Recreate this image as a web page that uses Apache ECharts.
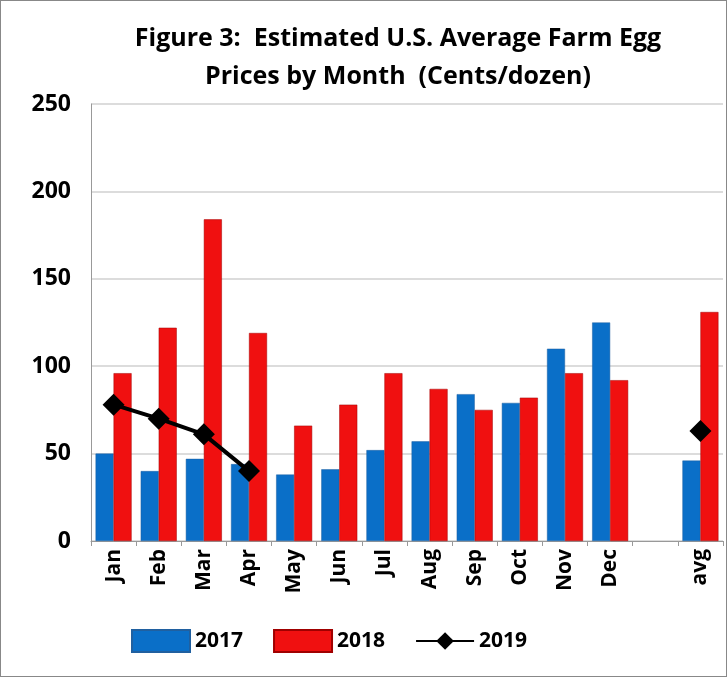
<!DOCTYPE html>
<html>
<head>
<meta charset="utf-8">
<script src="https://cdn.jsdelivr.net/npm/echarts@6/dist/echarts.min.js"></script>
<style>
html, body { margin: 0; padding: 0; background: #fff; }
#chart { width: 725px; height: 675px; border: 1px solid #888; }
</style>
</head>
<body>
<div id="chart"></div>
<script>
// 类别与数据
const categories = ['Jan', 'Feb', 'Mar', 'Apr', 'May', 'Jun', 'Jul', 'Aug', 'Sep', 'Oct', 'Nov', 'Dec', '', 'avg'];
const prices2017 = [50, 40, 47, 44, 38, 41, 52, 57, 84, 79, 110, 125, null, 46];
const prices2018 = [96, 122, 184, 119, 66, 78, 96, 87, 75, 82, 96, 92, null, 131];
const prices2019 = [78, 70, 61, 40, null, null, null, null, null, null, null, null, null, 63];

const myChart = echarts.init(document.getElementById('chart'));
const option = {
    title: {
        text: 'Figure 3:  Estimated U.S. Average Farm Egg\nPrices by Month  (Cents/dozen)',
        left: 392,
        textAlign: 'center',
        top: 14,
        textStyle: { fontFamily: 'Open Sans', fontSize: 25, fontWeight: 'bold', color: '#000', lineHeight: 38 }
    },
    legend: {
        bottom: 18,
        left: 125,
        itemGap: 30,
        textStyle: { fontFamily: 'Open Sans', fontSize: 21, fontWeight: 'bold', color: '#000' },
        data: [
            { name: '2017', icon: 'rect' },
            { name: '2018', icon: 'rect' },
            { name: '2019' }
        ],
        itemWidth: 58,
        itemHeight: 22
    },
    grid: { left: 90, right: 3, top: 103, bottom: 135 },
    xAxis: {
        type: 'category',
        data: categories,
        axisLine: { lineStyle: { color: '#999' } },
        axisTick: { show: true, lineStyle: { color: '#999' } },
        axisLabel: { rotate: 90, interval: 0, fontFamily: 'Open Sans', fontSize: 21, fontWeight: 'bold', color: '#000' }
    },
    yAxis: {
        type: 'value',
        min: 0,
        max: 250,
        interval: 50,
        axisLine: { show: true, lineStyle: { color: '#999' } },
        axisLabel: { fontFamily: 'Open Sans', fontSize: 23, fontWeight: 'bold', color: '#000', margin: 20 },
        splitLine: { lineStyle: { color: '#d0d0d0', width: 1.5 } }
    },
    series: [
        {
            name: '2017', type: 'bar', data: prices2017, barWidth: 18, barGap: '0%',
            itemStyle: { color: '#0A6FC8', borderColor: '#2060a0', borderWidth: 0.5 }
        },
        {
            name: '2018', type: 'bar', data: prices2018, barWidth: 18,
            itemStyle: { color: '#F01010', borderColor: '#a00000', borderWidth: 0.5 }
        },
        {
            name: '2019', type: 'line', data: prices2019, connectNulls: false,
            symbol: 'diamond', symbolSize: 22,
            lineStyle: { color: '#000', width: 4 },
            itemStyle: { color: '#000' }
        }
    ]
};
myChart.setOption(option);
</script>
</body>
</html>
